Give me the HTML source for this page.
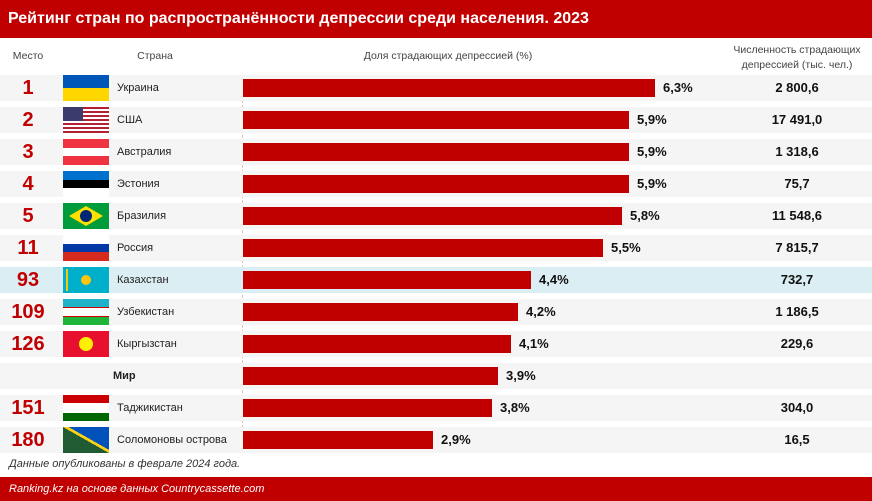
<!DOCTYPE html><html><head><meta charset="utf-8"><style>
body{margin:0;width:872px;height:501px;position:relative;background:#fff;font-family:"Liberation Sans",sans-serif;overflow:hidden}
.a{position:absolute}
.t{left:0;top:0;width:872px;height:38px;background:#c00000;color:#fff;font-weight:bold;font-size:16px;line-height:38px;padding-left:8px;box-sizing:border-box}
.h{font-size:10.5px;color:#444;text-align:center}
.r{left:0;width:872px;height:26px;background:#f5f5f5}
.rk{left:0;width:56px;text-align:center;color:#c00000;font-weight:bold;font-size:20px;line-height:26px}
.f{left:63px;width:46px;height:26px;overflow:hidden}
.c{left:117px;font-size:11px;color:#222;line-height:26px}
.b{left:243px;height:18px;background:#c00000}
.p{font-size:13px;font-weight:bold;color:#111;line-height:26px}
.n{left:722px;width:150px;text-align:center;font-size:13px;font-weight:bold;color:#111;line-height:26px}
</style></head><body>
<div class="a t">Рейтинг стран по распространённости депрессии среди населения. 2023</div>
<div class="a h" style="left:0;width:56px;top:50px">Место</div>
<div class="a h" style="left:110px;width:90px;top:50px">Страна</div>
<div class="a h" style="left:300px;width:296px;top:50px">Доля страдающих депрессией (%)</div>
<div class="a h" style="left:722px;width:150px;top:43px;line-height:15px">Численность страдающих<br>депрессией (тыс. чел.)</div>
<div class="a" style="left:242px;top:75px;height:378px;border-left:1px dashed #ccc"></div>
<div id="rows"></div>
<script>
var d=[["1","Украина",6.3,"2 800,6",'<div style="height:13px;background:#0057b7"></div><div style="height:13px;background:#ffd700"></div>'],
["2","США",5.9,"17 491,0",'<div style="height:26px;background:repeating-linear-gradient(#b22234 0 2px,#fff 2px 4px)"></div><div style="position:absolute;left:0;top:0;width:20px;height:14px;background:#3c3b6e"></div>'],
["3","Австралия",5.9,"1 318,6",'<div style="height:9px;background:#ef3340"></div><div style="height:8px;background:#fff"></div><div style="height:9px;background:#ef3340"></div>'],
["4","Эстония",5.9,"75,7",'<div style="height:9px;background:#0072ce"></div><div style="height:8px;background:#000"></div><div style="height:9px;background:#fff"></div>'],
["5","Бразилия",5.8,"11 548,6",'<div style="height:26px;background:#009c3b;position:relative"><div style="position:absolute;left:6px;top:3px;width:34px;height:20px;background:#ffdf00;clip-path:polygon(50% 0,100% 50%,50% 100%,0 50%)"></div><div style="position:absolute;left:17px;top:7px;width:12px;height:12px;border-radius:50%;background:#002776"></div></div>'],
["11","Россия",5.5,"7 815,7",'<div style="height:9px;background:#fff"></div><div style="height:8px;background:#0039a6"></div><div style="height:9px;background:#d52b1e"></div>'],
["93","Казахстан",4.4,"732,7",'<div style="height:26px;background:#00afca;position:relative"><div style="position:absolute;left:18px;top:8px;width:10px;height:10px;border-radius:50%;background:#fec50c"></div><div style="position:absolute;left:3px;top:2px;width:2px;height:22px;background:#fec50c"></div></div>'],
["109","Узбекистан",4.2,"1 186,5",'<div style="height:8px;background:#1eb3c8"></div><div style="height:1px;background:#c00"></div><div style="height:8px;background:#fff"></div><div style="height:1px;background:#c00"></div><div style="height:8px;background:#1eb53a"></div>'],
["126","Кыргызстан",4.1,"229,6",'<div style="height:26px;background:#e8112d;position:relative"><div style="position:absolute;left:16px;top:6px;width:14px;height:14px;border-radius:50%;background:#ffef00"></div></div>'],
["","Мир",3.9,"",""],
["151","Таджикистан",3.8,"304,0",'<div style="height:8px;background:#cc0000"></div><div style="height:10px;background:#fff"></div><div style="height:8px;background:#006600"></div>'],
["180","Соломоновы острова",2.9,"16,5",'<div style="height:26px;background:linear-gradient(to top right,#215b33 0 50%,#fcd116 50% 56%,#0051ba 56%)"></div>']];
var h="";d.forEach(function(r,i){var y=75+32*i,w=Math.round(r[2]*65.4);
h+='<div class="a r" style="top:'+y+'px;'+(i==6?'background:#daeef3':'')+'"></div>';
h+='<div class="a rk" style="top:'+y+'px">'+r[0]+'</div>';
if(r[4])h+='<div class="a f" style="top:'+y+'px">'+r[4]+'</div>';
h+=r[0]?'<div class="a c" style="top:'+y+'px">'+r[1]+'</div>':'<div class="a c" style="top:'+y+'px;left:113px;font-weight:bold">'+r[1]+'</div>';
h+='<div class="a b" style="top:'+(y+4)+'px;width:'+w+'px"></div>';
h+='<div class="a p" style="top:'+y+'px;left:'+(243+w+8)+'px">'+r[2].toFixed(1).replace(".",",")+'%</div>';
h+='<div class="a n" style="top:'+y+'px">'+r[3]+'</div>';});
document.getElementById("rows").innerHTML=h;
</script>
<div class="a" style="left:9px;top:458px;font-size:11px;font-style:italic;color:#333">Данные опубликованы в феврале 2024 года.</div>
<div class="a" style="left:0;top:477px;width:872px;height:24px;background:#c00000;color:#fff;font-size:11px;font-style:italic;line-height:24px;padding-left:9px;box-sizing:border-box">Ranking.kz на основе данных Countrycassette.com</div>
</body></html>
